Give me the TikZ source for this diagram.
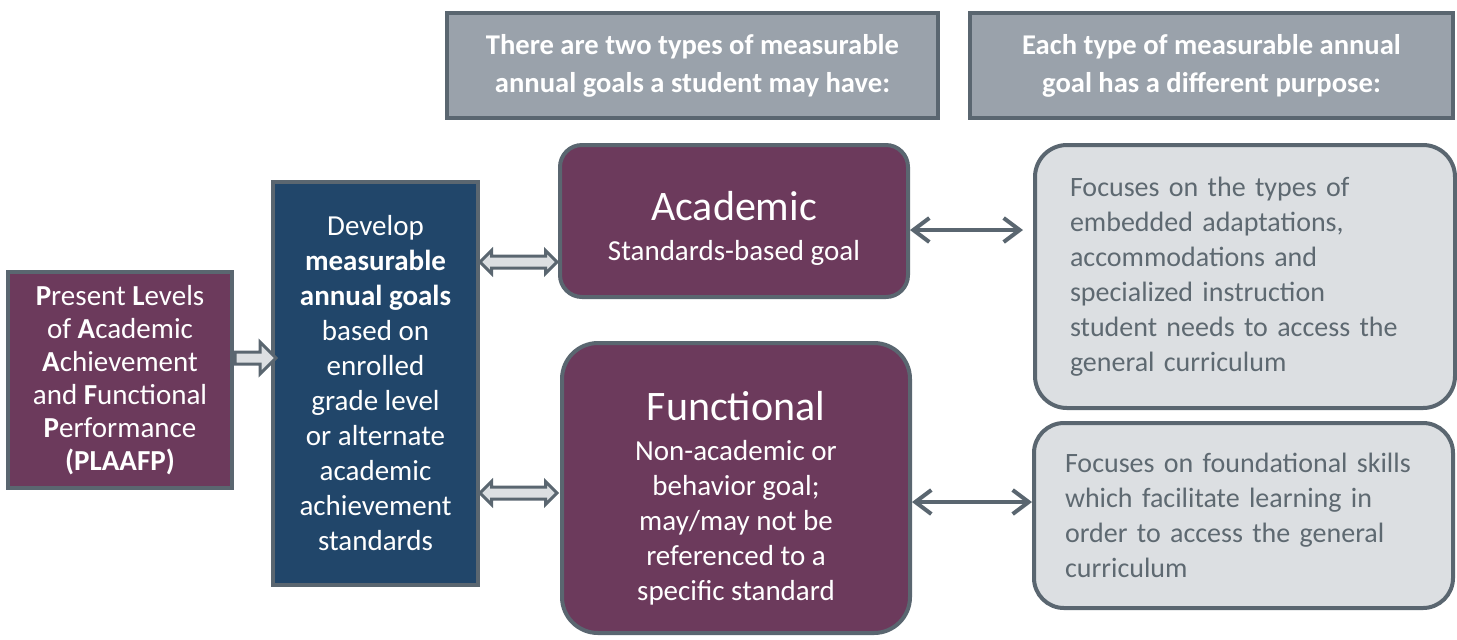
\documentclass[tikz,border=0pt]{standalone}
\usepackage{fontspec}
\setmainfont{Carlito}
\usepackage{tikz}
\usetikzlibrary{shapes,shapes.arrows,arrows.meta,calc,positioning}
\definecolor{plum}{HTML}{6C3A5C}
\definecolor{navy}{HTML}{21466A}
\definecolor{edge}{HTML}{5A6670}
\definecolor{hdgrey}{HTML}{9AA2AB}
\definecolor{pale}{HTML}{DCDFE2}
\definecolor{txtgrey}{HTML}{5E6971}
\tikzset{
  box/.style={draw=edge, line width=2pt, text=white, align=center, inner sep=0pt,
  font=\fontsize{14.5}{17.5}\selectfont},
  goal/.style={box, fill=plum},
  develop/.style={box, fill=navy},
  header/.style={draw=edge, line width=2pt, fill=hdgrey, text=white, align=center,
  font=\bfseries\fontsize{14.3}{19}\selectfont, minimum height=52.5pt},
  purpose/.style={draw=edge, line width=2pt, fill=pale, text=txtgrey, align=left,
  font=\fontsize{14}{17.5}\selectfont},
  dblarr/.style={double arrow, draw=edge, fill=pale, line width=1.5pt,
  inner xsep=0pt, inner ysep=2.25pt, double arrow head extend=2.75pt,
  minimum height=38.5pt},
  sglarr/.style={single arrow, draw=edge, fill=pale, line width=1.5pt,
  inner xsep=0pt, inner ysep=2.25pt, single arrow head extend=5pt,
  minimum height=20.5pt},
  link/.style={draw=edge, line width=2pt,
  {Straight Barb[length=8pt,width=12pt]}-{Straight Barb[length=8pt,width=12pt]}}
}
\begin{document}
\begin{tikzpicture}[x=0.5pt,y=-0.5pt]
\useasboundingbox (0,0) rectangle (1457,639);
\node[header, minimum width=245.5pt] (hdA) at (692.5,65.5)
  {There are two types of measurable\\ annual goals a student may have:};
\node[header, minimum width=241.5pt] (hdB) at (1211.5,65.5)
  {Each type of measurable annual\\ goal has a different purpose:};
\node[goal, minimum width=112pt, minimum height=108pt,
  font=\fontsize{14.5}{16.5}\selectfont] (plaafp) at (120,380)
  {\textbf{P}resent \textbf{L}evels\\ of \textbf{A}cademic\\ \textbf{A}chievement\\
  and \textbf{F}unctional\\ \textbf{P}erformance\\ \textbf{(PLAAFP)}};
\node[develop, minimum width=102.5pt, minimum height=201.5pt] (dev) at (375.5,383.5)
  {Develop\\ \textbf{measurable}\\ \textbf{annual goals}\\ based on\\ enrolled\\
  grade level\\ or alternate\\ academic\\ achievement\\ standards};
\node[goal, rounded corners=11pt, minimum width=174pt, minimum height=76pt]
  (acad) at (734,221)
  {{\fontsize{21}{25}\selectfont\rule{0pt}{21.5pt}Academic}\\[2.5pt] Standards-based goal};
\node[goal, rounded corners=18pt, minimum width=174pt, minimum height=145pt]
  (func) at (736,488)
  {{\fontsize{21}{25}\selectfont\rule{0pt}{24.5pt}Functional}\\[2.5pt] Non-academic or\\
  behavior goal;\\ may/may not be\\ referenced to a\\ specific standard};
\node[purpose, rounded corners=16pt, text width=175pt, inner xsep=17.5pt,
  minimum height=131.5pt] (focA) at (1245,276.5)
  {Focuses on the types of\\ embedded adaptations,\\ accommodations and\\
  specialized instruction\\ student needs to access the\\ general curriculum};
\node[purpose, rounded corners=15pt, text width=178.5pt, inner xsep=15.5pt,
  minimum height=92.5pt] (focB) at (1243.5,515.5)
  {Focuses on foundational skills\\ which facilitate learning in\\
  order to access the general\\ curriculum};
\node[sglarr] (pa) at (252.5,358) {};
\node[dblarr] (a1) at (518.5,262) {};
\node[dblarr] (a2) at (518.5,493) {};
\coordinate (lA) at ($(acad.east)+(0,9)$);
\coordinate (lB) at ($(func.east)+(0,14)$);
\draw[link, shorten >=5pt] (lA) -- (lA -| focA.west);
\draw[link] (lB) -- (lB -| focB.west);
\end{tikzpicture}
\end{document}
